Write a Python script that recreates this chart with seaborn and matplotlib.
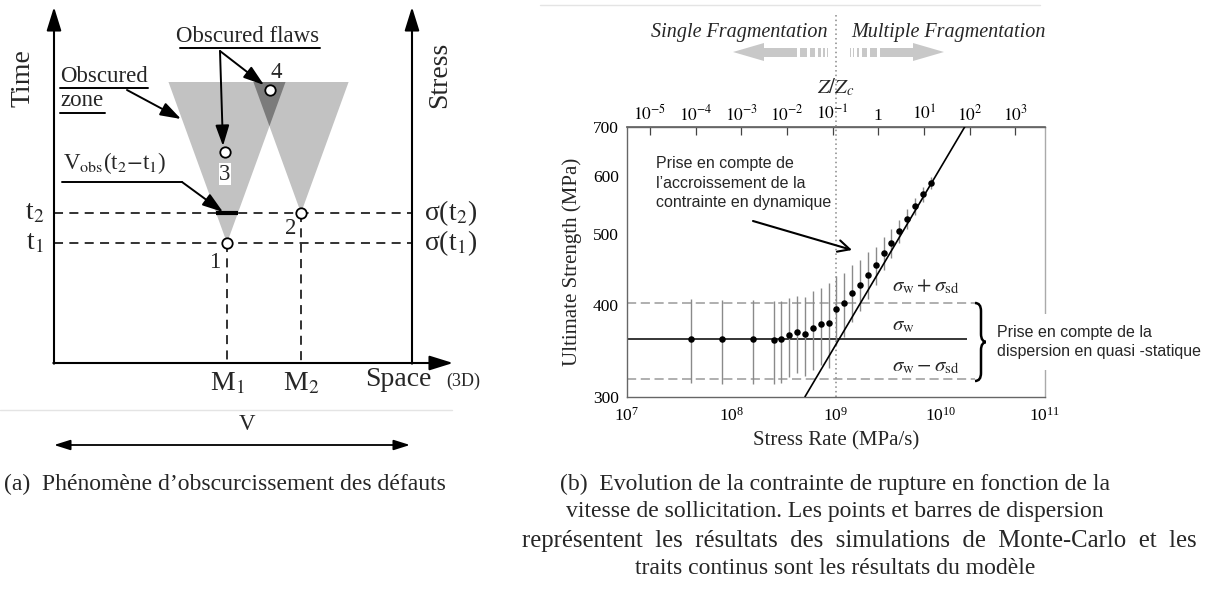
import numpy as np
import matplotlib
matplotlib.use("Agg")
import matplotlib.pyplot as plt
import seaborn as sns
import pandas as pd
from matplotlib.patches import Polygon, Rectangle, PathPatch
from matplotlib.path import Path
from matplotlib.ticker import FixedLocator, FixedFormatter, NullLocator

# ------------------------------------------------------------------ data (b)
stress_rate = [4.07e7, 8.05e7, 1.62e8, 2.54e8, 2.98e8, 3.55e8, 4.23e8, 5.02e8,
               5.98e8, 7.14e8, 8.51e8, 1.0e9, 1.19e9, 1.42e9, 1.70e9, 2.02e9,
               2.41e9, 2.86e9, 3.38e9, 4.03e9, 4.81e9, 5.74e9, 6.84e9, 8.16e9]
strength = [360, 359.5, 359, 358.5, 359, 364, 367, 365, 372, 376.5, 378.5, 395.5,
            402, 416, 426.5, 440, 453, 470.5, 485.5, 504, 524.5, 545, 566, 587.5]
strength_sd = [47, 47, 47, 46, 46, 45, 44, 45, 46, 45, 50, 43,
               40, 37, 34, 32, 27, 24, 22, 18, 17, 15, 14, 11]
model_rate = [5.05e8, 1.71e10]
model_strength = [300, 700]
sigma_w = 360
sigma_sd = 43
critical_rate = 1e9
ref_line_end = [2.15e10, 1.8e10]          # dashed / solid horizontal extent
x_ticks = [1e7, 1e8, 1e9, 1e10, 1e11]
y_ticks = [300, 400, 500, 600, 700]
z_ticks = [1e-5, 1e-4, 1e-3, 1e-2, 1e-1, 1, 1e1, 1e2, 1e3]
z_tick_labels = [r"$10^{-5}$", r"$10^{-4}$", r"$10^{-3}$", r"$10^{-2}$",
                 r"$10^{-1}$", "1", r"$10^{1}$", r"$10^{2}$", r"$10^{3}$"]
z_exponent = 2.29
z_ref_log_rate = 8.968

# ------------------------------------------------------ schematic (a), pixels
ax_left, ax_right, ax_base, ax_tip = 54, 412, 363, 7
space_tip = 453
M_x = [227, 301]            # M1, M2
t_y = [243, 213]            # t1, t2
cone_top = 82
cone_slope = 0.3634
flaw_pts = {"1": (227, 243), "2": (301, 213), "3": (225, 152), "4": (270, 90)}
flaw_lbl = {"1": (215, 263), "2": (291, 229), "3": (225, 174), "4": (276, 73)}

# ------------------------------------------------------------------ style
sns.set_theme(style="white")
plt.rcParams["font.family"] = ["Liberation Serif", "DejaVu Sans"]
plt.rcParams["mathtext.fontset"] = "stix"

W, H = 1210, 596
fig = plt.figure(figsize=(W / 100, H / 100), dpi=100)
fig.patch.set_facecolor("white")

# ------------------------------------------------------------------ panel b
ax = fig.add_axes([627 / W, (H - 396.7) / H, 418 / W, 270 / H])
ax.set_xscale("log")
ax.set_yscale("log")

ax.errorbar(stress_rate, strength, yerr=strength_sd, fmt="none",
            ecolor="#8a8a8a", elinewidth=1.0, capsize=0, zorder=2)
sns.scatterplot(x=stress_rate, y=strength, color="black", s=22,
                linewidth=0, ax=ax, zorder=4)
sns.lineplot(x=model_rate, y=model_strength, color="black", lw=1.2, ax=ax,
             zorder=3)
ax.hlines([sigma_w + sigma_sd, sigma_w - sigma_sd], x_ticks[0], ref_line_end[0],
          colors="#9a9a9a", linestyles=(0, (6, 3)), lw=1.1, zorder=1)
ax.hlines(sigma_w, x_ticks[0], ref_line_end[1], colors="black", lw=1.1, zorder=1)
ax.axvline(critical_rate, ymin=0, ymax=(396.7 - 13) / 270, clip_on=False,
           ls=(0, (1, 2)), color="#888888", lw=1.1, zorder=1)

ax.set_xlim(x_ticks[0], x_ticks[-1])
ax.set_ylim(y_ticks[0], y_ticks[-1])
ax.xaxis.set_major_locator(FixedLocator(x_ticks))
ax.yaxis.set_major_locator(FixedLocator(y_ticks))
ax.yaxis.set_major_formatter(FixedFormatter([str(v) for v in y_ticks]))
ax.yaxis.set_minor_locator(NullLocator())
ax.tick_params(axis="x", which="major", direction="in", length=6, width=0.9,
               labelsize=12.5, pad=7, colors="#444444", labelcolor="black")
ax.tick_params(axis="x", which="minor", direction="in", length=3, width=0.8,
               colors="#444444")
ax.tick_params(axis="y", direction="in", length=3, width=0.8, labelsize=12.5,
               pad=6, colors="#777777", labelcolor="black")
ax.tick_params(top=False, right=False)
for s in ax.spines.values():
    s.set_color("#666666")
    s.set_linewidth(1.0)
ax.spines["right"].set_color("#aaaaaa")
ax.set_xlabel("Stress Rate (MPa/s)", fontsize=15, labelpad=5)
ax.set_ylabel("Ultimate Strength (MPa)", fontsize=15, labelpad=8)

def fwd(r):
    r = np.clip(np.asarray(r, dtype=float), 1e-300, None)
    return 10 ** (-1 + z_exponent * (np.log10(r) - z_ref_log_rate))

def inv(z):
    z = np.clip(np.asarray(z, dtype=float), 1e-300, None)
    return 10 ** (z_ref_log_rate + (np.log10(z) + 1) / z_exponent)

sec = ax.secondary_xaxis("top", functions=(fwd, inv))
sec.xaxis.set_major_locator(FixedLocator(z_ticks))
sec.xaxis.set_major_formatter(FixedFormatter(z_tick_labels))
sec.xaxis.set_minor_locator(NullLocator())
sec.tick_params(direction="in", length=6, width=0.9, labelsize=12.5, pad=2,
                colors="#444444", labelcolor="black")
sec.spines["top"].set_color("#666666")
sec.set_xlabel(r"$Z/Z_c$", fontsize=15, labelpad=8,
               bbox=dict(facecolor="white", edgecolor="none", pad=1))

sig_x = 3.4e9
ax.text(sig_x, 424, r"$\sigma_{\rm w}+\sigma_{\rm sd}$", fontsize=15,
        va="center", ha="left")
ax.text(sig_x, 375, r"$\sigma_{\rm w}$", fontsize=15, va="center", ha="left")
ax.text(sig_x, 330, r"$\sigma_{\rm w}-\sigma_{\rm sd}$", fontsize=15,
        va="center", ha="left")

# ------------------------------------------------------------------ overlay
ov = fig.add_axes([0, 0, 1, 1], zorder=10)
ov.set_xlim(0, W)
ov.set_ylim(H, 0)
ov.axis("off")
ov.patch.set_alpha(0)

big = 20
mid = 16.5

# separators
ov.plot([540, 1040], [5, 5], color="#e4e4e4", lw=1)
ov.plot([0, 452], [410, 410], color="#e4e4e4", lw=1)

# cones
def cone(mx, ty):
    hw = cone_slope * (ty - cone_top)
    return [(mx, ty), (mx - hw, cone_top), (mx + hw, cone_top)]

for mx, ty in zip(M_x, t_y):
    ov.add_patch(Polygon(cone(mx, ty), closed=True, facecolor="#c2c2c2",
                         edgecolor="none", zorder=1))
# overlap of the two cones
hw1 = cone_slope * (t_y[0] - cone_top)
hw2 = cone_slope * (t_y[1] - cone_top)
y_cross = (M_x[0] - M_x[1] + cone_slope * (t_y[0] + t_y[1])) / (2 * cone_slope)
x_cross = M_x[0] + cone_slope * (t_y[0] - y_cross)
ov.add_patch(Polygon([(M_x[1] - hw2, cone_top), (M_x[0] + hw1, cone_top),
                      (x_cross, y_cross)], closed=True, facecolor="#7b7b7b",
                     edgecolor="none", zorder=1.5))

# dashed guides
dash = (0, (5, 3.5))
for ty in t_y:
    ov.plot([ax_left, ax_right], [ty, ty], color="#222222", lw=1.3, ls=dash,
            zorder=2)
for mx, ty in zip(M_x, t_y):
    ov.plot([mx, mx], [ty, ax_base], color="#222222", lw=1.3, ls=dash, zorder=2)

# V_obs thick segment
hw_seg = cone_slope * (t_y[0] - t_y[1])
ov.plot([M_x[0] - hw_seg, M_x[0] + hw_seg], [t_y[1], t_y[1]], color="black",
        lw=3, solid_capstyle="butt", zorder=3)

# axes arrows
ax_arrow = dict(arrowstyle="-|>,head_length=0.9,head_width=0.28", lw=1.5,
                color="black", mutation_scale=16, shrinkA=0, shrinkB=0)
ov.annotate("", xy=(ax_left, ax_tip), xytext=(ax_left, ax_base + 0.7),
            arrowprops=ax_arrow)
ov.annotate("", xy=(ax_right, ax_tip), xytext=(ax_right, ax_base + 0.7),
            arrowprops=ax_arrow)
ov.annotate("", xy=(space_tip, ax_base), xytext=(ax_left - 0.7, ax_base),
            arrowprops=ax_arrow)
ov.annotate("", xy=(410, 445), xytext=(54, 445),
            arrowprops=dict(arrowstyle="<|-|>,head_length=0.7,head_width=0.22",
                            lw=1.3, color="black", mutation_scale=14,
                            shrinkA=0, shrinkB=0))

# flaws
for k, (px, py) in flaw_pts.items():
    ov.plot(px, py, "o", ms=7.5, mfc="white", mec="black", mew=1.3, zorder=5)
    lx, ly = flaw_lbl[k]
    kw = dict(fontsize=mid, ha="center", va="center", zorder=6)
    if k == "3":
        kw["bbox"] = dict(facecolor="white", edgecolor="none", pad=0.5)
    ov.text(lx, ly, k, **kw)

# annotation arrows
ann = dict(arrowstyle="-|>,head_length=0.9,head_width=0.3", lw=1.4,
           color="black", mutation_scale=14, shrinkA=0, shrinkB=0)
ov.annotate("", xy=(223, 146), xytext=(220, 51), arrowprops=ann, zorder=4)
ov.annotate("", xy=(264, 85), xytext=(220, 51), arrowprops=ann, zorder=4)
ov.annotate("", xy=(181, 119), xytext=(127, 90), arrowprops=ann, zorder=4)
ov.plot([62, 182], [182, 182], color="black", lw=1.4)
ov.annotate("", xy=(223, 212), xytext=(182, 182), arrowprops=ann, zorder=4)

# schematic text
ov.text(248, 37, "Obscured flaws", fontsize=mid, ha="center", va="center")
ov.plot([180, 320], [48, 48], color="black", lw=1.4)
ov.text(60, 77, "Obscured", fontsize=mid, ha="left", va="center")
ov.plot([60, 148], [88, 88], color="black", lw=1.4)
ov.text(60, 101, "zone", fontsize=mid, ha="left", va="center")
ov.plot([60, 105], [113, 113], color="black", lw=1.4)
ov.text(63, 163, r"V$_{\rm obs}$(t$_2$$-$t$_1$)", fontsize=mid, ha="left",
        va="center")
ov.text(23, 78, "Time", fontsize=big, rotation=90, ha="center", va="center")
ov.text(440, 75, "Stress", fontsize=big, rotation=90, ha="center", va="center")
ov.text(35, 213, r"t$_2$", fontsize=big, ha="center", va="center")
ov.text(35, 243, r"t$_1$", fontsize=big, ha="center", va="center")
ov.text(424, 213, r"σ(t$_2$)", fontsize=big, ha="left", va="center")
ov.text(424, 243, r"σ(t$_1$)", fontsize=big, ha="left", va="center")
ov.text(M_x[0], 384, r"M$_1$", fontsize=big, ha="center", va="center")
ov.text(M_x[1], 384, r"M$_2$", fontsize=big, ha="center", va="center")
ov.text(365, 380, "Space", fontsize=big, ha="left", va="center")
ov.text(446, 381, "(3D)", fontsize=13, ha="left", va="center")
ov.text(247, 425, "V", fontsize=mid, ha="center", va="center")

# fragmentation arrows (panel b, top)
frag_y = 52
frag_col = "#c8c8c8"
head = [(733, frag_y), (764, frag_y - 9), (764, frag_y + 9)]
segs = [(763, 797), (800, 807), (810, 815), (818, 820.5), (823, 824.5),
        (826.5, 827.5)]
mirror = 1677
for side in (0, 1):
    pts = head if side == 0 else [(mirror - x, y) for x, y in head]
    ov.add_patch(Polygon(pts, closed=True, facecolor=frag_col, edgecolor="none"))
    for x0, x1 in segs:
        if side == 1:
            x0, x1 = mirror - x1, mirror - x0
        ov.add_patch(Rectangle((x0, frag_y - 4.5), x1 - x0, 9,
                               facecolor=frag_col, edgecolor="none"))
ov.text(828, 33, "Single Fragmentation", fontsize=14.5, style="italic",
        ha="right", va="center")
ov.text(851, 33, "Multiple Fragmentation", fontsize=14.5, style="italic",
        ha="left", va="center")

# French annotations
sans = ["Liberation Sans", "DejaVu Sans"]
ov.text(656, 183, "Prise en compte de\nl’accroissement de la\ncontrainte en dynamique",
        fontsize=11.5, family=sans, ha="left", va="center", linespacing=1.37)
ov.annotate("", xy=(852, 250), xytext=(753, 221),
            arrowprops=dict(arrowstyle="->,head_length=0.6,head_width=0.3",
                            lw=1.5, color="black", mutation_scale=14,
                            shrinkA=0, shrinkB=0))
ov.text(997, 342, "Prise en compte de la\ndispersion en quasi -statique",
        fontsize=11.5, family=sans, ha="left", va="center", linespacing=1.3,
        bbox=dict(facecolor="white", edgecolor="none", pad=8))

# curly brace
bx, by0, by1, bw = 975, 303, 381, 12
bym, d = (by0 + by1) / 2, 8
verts = [(bx, by0), (bx + bw / 2, by0), (bx + bw / 2, by0 + d),
         (bx + bw / 2, bym - d), (bx + bw / 2, bym), (bx + bw, bym),
         (bx + bw / 2, bym), (bx + bw / 2, bym + d),
         (bx + bw / 2, by1 - d), (bx + bw / 2, by1), (bx, by1)]
codes = [Path.MOVETO, Path.CURVE3, Path.CURVE3, Path.LINETO, Path.CURVE3,
         Path.CURVE3, Path.CURVE3, Path.CURVE3, Path.LINETO, Path.CURVE3,
         Path.CURVE3]
ov.add_patch(PathPatch(Path(verts, codes), facecolor="none", edgecolor="black",
                       lw=1.8))

# captions
cap = 17
fig.text(225 / W, 1 - 484 / H, "(a)  Phénomène d’obscurcissement des défauts",
         fontsize=cap, ha="center", va="center")
cap_b = ["(b)  Evolution de la contrainte de rupture en fonction de la",
         "vitesse de sollicitation. Les points et barres de dispersion",
         "représentent  les  résultats  des  simulations  de  Monte-Carlo  et  les",
         "traits continus sont les résultats du modèle"]
cap_y = [484, 512, 541, 569]
for i, (line, cy) in enumerate(zip(cap_b, cap_y)):
    if i == 2:
        fig.text(522 / W, 1 - cy / H, line, fontsize=17.8, ha="left",
                 va="center")
    else:
        fig.text(835 / W, 1 - cy / H, line, fontsize=cap, ha="center",
                 va="center")

fig.savefig("out.png", dpi=100, facecolor="white")
